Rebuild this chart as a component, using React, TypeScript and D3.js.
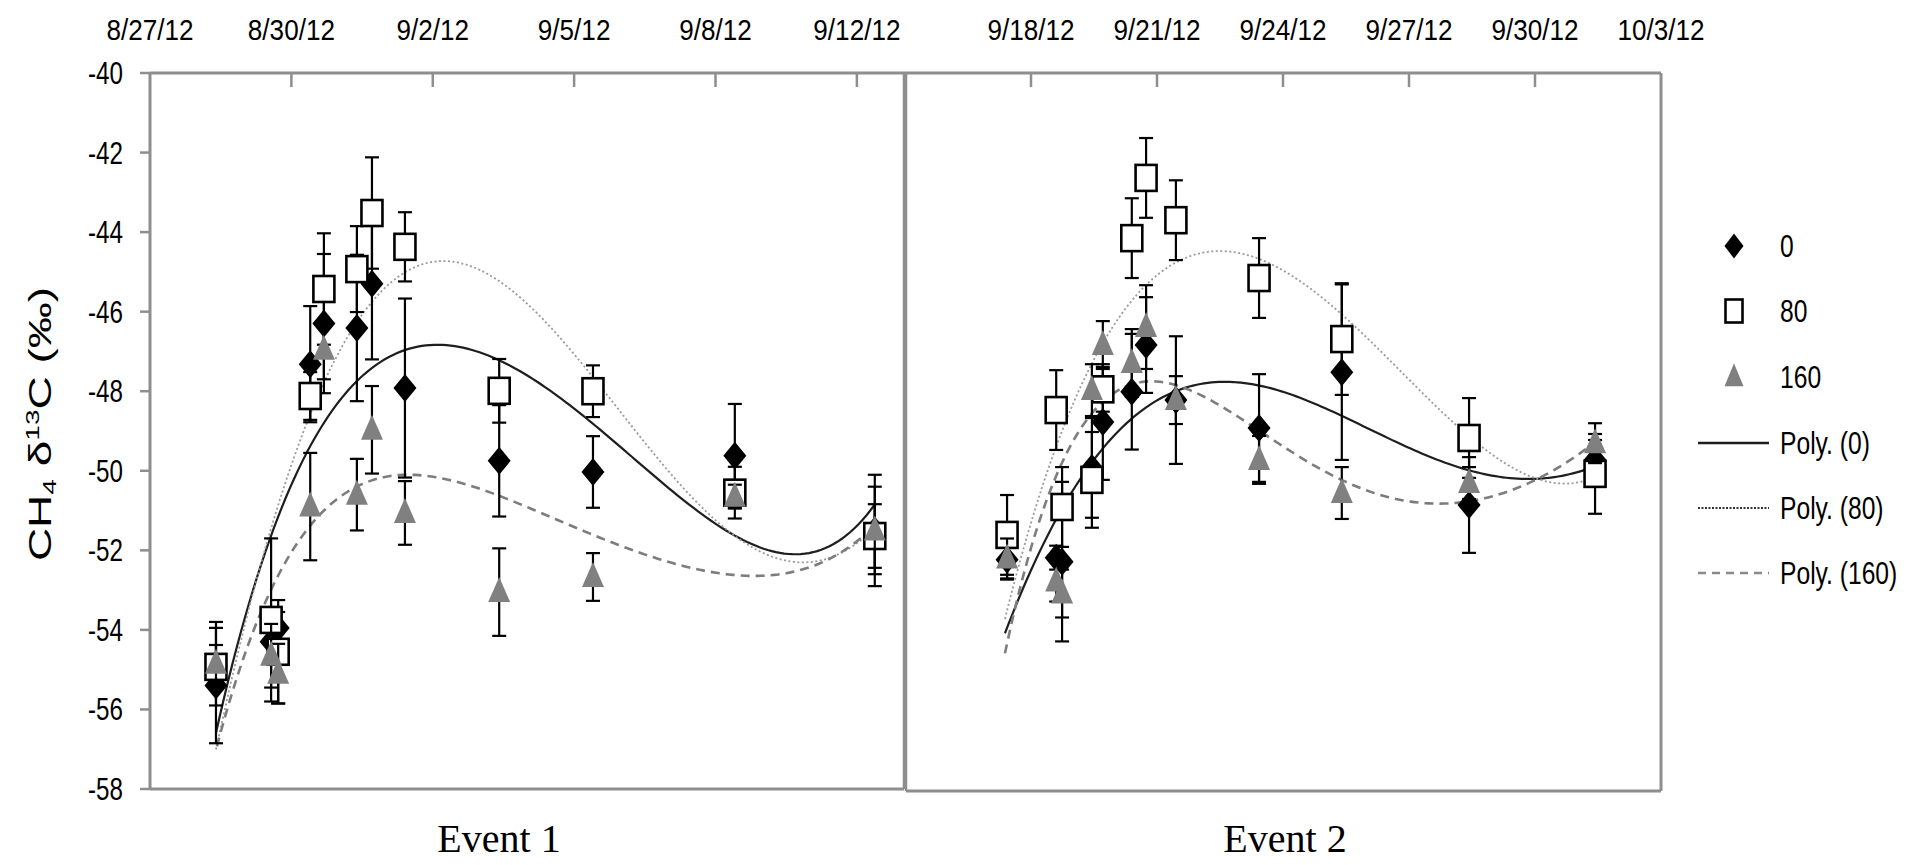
import React from "react";
import * as d3 from "d3";

// ---------- tick labels ----------
const LEFT_DATE_LABELS = ["8/27/12", "8/30/12", "9/2/12", "9/5/12", "9/8/12", "9/12/12"];
const LEFT_DATE_DAYS = [0, 3, 6, 9, 12, 15];
const RIGHT_DATE_LABELS = ["9/18/12", "9/21/12", "9/24/12", "9/27/12", "9/30/12", "10/3/12"];
const RIGHT_DATE_DAYS = [3, 6, 9, 12, 15, 18];
const Y_TICKS = [-40, -42, -44, -46, -48, -50, -52, -54, -56, -58];
const SERIES_NAMES = ["0", "80", "160"];
const FIT_NAMES = ["Poly. (0)", "Poly. (80)", "Poly. (160)"];

// ---------- Event 1 (days since 8/27/12) ----------
const E1_DAYS = [1.4, 2.57, 2.72, 3.4, 3.69, 4.39, 4.71, 5.41, 7.41, 9.4, 12.41, 15.38];
const E1_S0 = [-55.4, -54.3, -53.95, -47.32, -46.3, -46.41, -45.3, -47.92, -49.75, -50.03, -49.62, -51.5];
const E1_S0_ERR = [1.45, 0.5, 0.4, 1.46, 1.75, 1.84, 1.9, 2.25, 1.4, 0.9, 1.3, 1.4];
const E1_S80 = [-54.93, -53.75, -54.55, -48.12, -45.43, -44.93, -43.52, -44.37, -47.99, -48.0, -50.55, -51.64];
const E1_S80_ERR = [0.55, 2.05, 1.3, 0.6, 1.4, 1.08, 1.4, 0.87, 0.8, 0.65, 0.65, 0.8];
const E1_S160 = [-54.85, -54.65, -55.1, -50.9, -46.96, -50.6, -48.97, -51.06, -53.05, -52.67, -50.65, -51.5];
const E1_S160_ERR = [1.05, 0.8, 0.75, 1.35, 0.74, 0.9, 1.1, 0.8, 1.1, 0.6, 0.3, 1.1];

// trend curves: [day, value]
const E1_FIT0: [number, number][] = [
  [1.4, -56.9], [1.76, -54.4], [2.55, -51.6], [2.97, -50.4], [3.46, -49.4], [3.82, -48.75],
  [4.39, -47.85], [4.82, -47.3], [5.58, -46.8], [6.0, -46.69], [7.0, -46.96], [8.06, -47.72],
  [9.4, -48.97], [10.4, -49.73], [10.97, -50.4], [12.37, -51.56], [13.2, -52.05], [13.8, -52.14],
  [14.49, -51.8], [15.38, -50.86],
];
const E1_FIT80: [number, number][] = [
  [1.4, -57.0], [2.06, -53.57], [2.76, -50.9], [3.33, -48.8], [3.88, -47.2], [4.6, -45.9],
  [5.3, -45.03], [6.22, -44.75], [7.0, -45.03], [7.7, -45.53], [8.76, -46.63], [9.66, -48.05],
  [10.25, -49.0], [11.18, -50.23], [12.37, -51.49], [13.22, -52.2], [13.79, -52.37],
  [14.49, -52.17], [15.21, -51.57], [15.43, -51.4],
];
const E1_FIT160: [number, number][] = [
  [1.42, -57.0], [2.06, -54.42], [2.76, -52.4], [3.46, -51.24], [4.39, -50.56], [5.45, -50.23],
  [6.3, -50.2], [7.36, -50.48], [8.42, -51.06], [9.55, -51.66], [10.97, -52.35], [12.37, -52.7],
  [13.22, -52.67], [14.15, -52.2], [15.07, -51.66], [15.43, -51.4],
];

// ---------- Event 2 (days since 9/15/12) ----------
const E2_DAYS = [2.43, 3.6, 3.74, 4.45, 4.71, 5.4, 5.74, 6.45, 8.43, 10.4, 13.43, 16.43];
const E2_S0 = [-52.2, -52.15, -52.25, -49.9, -48.75, -47.99, -46.82, -48.2, -48.9, -47.5, -50.83, -49.7];
const E2_S0_ERR = [0.5, 0.3, 2.0, 1.25, 1.45, 1.45, 1.2, 1.6, 1.35, 2.2, 1.2, 0.5];
const E2_S80 = [-51.58, -48.45, -50.88, -50.2, -47.93, -44.14, -42.63, -43.69, -45.14, -46.67, -49.15, -50.05];
const E2_S80_ERR = [1.0, 1.0, 1.0, 1.2, 0.56, 1.0, 1.0, 1.0, 1.0, 1.4, 1.0, 1.0];
const E2_S160 = [-52.17, -52.75, -53.05, -47.95, -46.82, -47.27, -46.37, -48.2, -49.7, -50.53, -50.28, -49.28];
const E2_S160_ERR = [0.5, 0.5, 0.6, 0.65, 0.6, 0.85, 1.05, 0.6, 0.6, 0.65, 0.4, 0.5];

const E2_FIT0: [number, number][] = [
  [2.38, -54.0], [3.45, -51.6], [4.48, -49.7], [5.43, -48.53], [6.62, -47.92],
  [7.67, -47.77], [8.62, -47.9], [10.19, -48.53], [11.86, -49.28], [13.48, -49.95],
  [14.83, -50.2], [15.67, -50.13], [16.43, -49.83],
];
const E2_FIT80: [number, number][] = [
  [2.38, -53.7], [3.38, -49.95], [4.33, -47.62], [5.43, -45.69], [6.48, -44.69],
  [7.43, -44.39], [8.62, -44.76], [10.19, -46.02], [11.86, -47.37], [13.48, -49.2],
  [14.83, -50.13], [15.5, -50.25], [16.43, -50.13],
];
const E2_FIT160: [number, number][] = [
  [2.38, -54.5], [3.52, -50.5], [4.24, -48.7], [5.05, -47.87], [5.83, -47.77], [6.79, -47.95],
  [8.21, -48.87], [9.4, -49.7], [10.6, -50.2], [11.86, -50.63], [13.38, -50.85], [14.4, -50.53],
  [15.4, -49.88], [16.43, -49.28],
];

// ---------- layout ----------
const W = 1907;
const H = 865;
const BORDER = "#8e8e8e";
const SANS = "'Liberation Sans', Arial, sans-serif";
const SERIF = "'Liberation Serif', 'Times New Roman', serif";

const xL = d3.scaleLinear().domain([0, 16]).range([150, 904]);
const yL = d3.scaleLinear().domain([-58, -40]).range([789, 73]);
const xR = d3.scaleLinear().domain([0, 18]).range([905, 1661]);
const yR = d3.scaleLinear().domain([-58, -40]).range([791, 73]);

// least-squares polynomial through the read trend points (smooths reading noise)
function polySmooth(pts: [number, number][], deg: number, n = 160): [number, number][] {
  const x0 = pts[0][0];
  const x1 = pts[pts.length - 1][0];
  const mid = (x0 + x1) / 2;
  const half = (x1 - x0) / 2;
  const m = deg + 1;
  const A = Array.from({ length: m }, () => new Array(m).fill(0));
  const b = new Array(m).fill(0);
  pts.forEach(([x, y]) => {
    const t = (x - mid) / half;
    const p = Array.from({ length: m }, (_, k) => Math.pow(t, k));
    for (let i = 0; i < m; i++) {
      b[i] += p[i] * y;
      for (let j = 0; j < m; j++) A[i][j] += p[i] * p[j];
    }
  });
  for (let c = 0; c < m; c++) {
    let piv = c;
    for (let r = c + 1; r < m; r++) if (Math.abs(A[r][c]) > Math.abs(A[piv][c])) piv = r;
    [A[c], A[piv]] = [A[piv], A[c]];
    [b[c], b[piv]] = [b[piv], b[c]];
    for (let r = 0; r < m; r++) {
      if (r === c) continue;
      const f = A[r][c] / A[c][c];
      for (let k = c; k < m; k++) A[r][k] -= f * A[c][k];
      b[r] -= f * b[c];
    }
  }
  const coef = b.map((v, i) => v / A[i][i]);
  return d3.range(n + 1).map((i) => {
    const x = x0 + ((x1 - x0) * i) / n;
    const t = (x - mid) / half;
    const y = coef.reduce((s, c, k) => s + c * Math.pow(t, k), 0);
    return [x, y] as [number, number];
  });
}

function Diamond({ cx, cy, w = 23, h = 28 }: any) {
  return (
    <path
      d={`M${cx},${cy - h / 2}L${cx + w / 2},${cy}L${cx},${cy + h / 2}L${cx - w / 2},${cy}Z`}
      fill="#000"
    />
  );
}
function Square({ cx, cy, w = 21, h = 26 }: any) {
  return <rect x={cx - w / 2} y={cy - h / 2} width={w} height={h} fill="#fff" stroke="#000" strokeWidth={2.6} />;
}
function Triangle({ cx, cy, w = 22, h = 25 }: any) {
  return (
    <path
      d={`M${cx},${cy - h * 0.6}L${cx + w / 2},${cy + h * 0.4}L${cx - w / 2},${cy + h * 0.4}Z`}
      fill="#808080"
    />
  );
}

function STxt({ x, y, sx = 1, size, family = SANS, anchor = "start", children }: any) {
  return (
    <text
      transform={`translate(${x},${y}) scale(${sx},1)`}
      fontSize={size}
      fontFamily={family}
      textAnchor={anchor}
      fill="#000"
    >
      {children}
    </text>
  );
}

function Panel({ x, y, days, series, errs, fits }: any) {
  const line = (pts: [number, number][]) =>
    d3
      .line<[number, number]>()
      .x((d) => x(d[0]))
      .y((d) => y(d[1]))(polySmooth(pts, 5)) || "";
  const fitStyles = [
    { stroke: "#1e1e1e", width: 2.2, dash: "none" },
    { stroke: "#9a9a9a", width: 1.8, dash: "2 2.5" },
    { stroke: "#7d7d7d", width: 2.6, dash: "9 6" },
  ];
  return (
    <g>
      {fits.map((f: [number, number][], i: number) => (
        <path
          key={"f" + i}
          d={line(f)}
          fill="none"
          stroke={fitStyles[i].stroke}
          strokeWidth={fitStyles[i].width}
          strokeDasharray={fitStyles[i].dash}
        />
      ))}
      {series.map((vals: number[], si: number) => (
        <g key={"s" + si}>
          {vals.map((v: number, i: number) => {
            const cx = x(days[i]);
            const e = errs[si][i];
            const yt = y(v + e);
            const yb = y(v - e);
            return (
              <g key={i} stroke="#000" strokeWidth={2.2}>
                <line x1={cx} x2={cx} y1={yt} y2={yb} />
                <line x1={cx - 7} x2={cx + 7} y1={yt} y2={yt} />
                <line x1={cx - 7} x2={cx + 7} y1={yb} y2={yb} />
              </g>
            );
          })}
          {vals.map((v: number, i: number) => {
            const cx = x(days[i]);
            const cy = y(v);
            if (si === 0) return <Diamond key={"m" + i} cx={cx} cy={cy} />;
            if (si === 1) return <Square key={"m" + i} cx={cx} cy={cy} />;
            return <Triangle key={"m" + i} cx={cx} cy={cy} />;
          })}
        </g>
      ))}
    </g>
  );
}

export default function App() {
  const legendY = [246, 311, 377, 443, 508, 573];
  const legendMarkX = 1734;
  const legendTextX = 1780;
  return (
    <svg
      width={W}
      height={H}
      viewBox={`0 0 ${W} ${H}`}
      style={{ position: "absolute", left: 0, top: 0, background: "#fff" }}
    >
      <rect x={0} y={0} width={W} height={H} fill="#fff" />

      {/* top date labels */}
      {LEFT_DATE_LABELS.map((t, i) => (
        <STxt key={"lt" + i} x={xL(LEFT_DATE_DAYS[i])} y={40} sx={0.9} size={29} anchor="middle">
          {t}
        </STxt>
      ))}
      {RIGHT_DATE_LABELS.map((t, i) => (
        <STxt key={"rt" + i} x={xR(RIGHT_DATE_DAYS[i])} y={40} sx={0.9} size={29} anchor="middle">
          {t}
        </STxt>
      ))}

      {/* y axis */}
      {Y_TICKS.map((v) => (
        <g key={"y" + v}>
          <line x1={140} x2={150} y1={yL(v)} y2={yL(v)} stroke={BORDER} strokeWidth={2.5} />
          <STxt x={123} y={yL(v) + 11} sx={0.78} size={31} anchor="end">
            {v}
          </STxt>
        </g>
      ))}

      {/* y title */}
      <text
        transform={`translate(51,424) scale(0.68,1) rotate(-90)`}
        fontSize={46}
        fontFamily={SANS}
        textAnchor="middle"
        fill="#000"
      >
        CH<tspan fontSize={28} dy={8}>4</tspan>
        <tspan dy={-8}>{"  δ"}</tspan>
        <tspan fontSize={28} dy={-18}>13</tspan>
        <tspan dy={18}>C (‰)</tspan>
      </text>

      {/* panel frames */}
      <line x1={150} x2={1661} y1={73} y2={73} stroke={BORDER} strokeWidth={3} />
      <line x1={150} x2={150} y1={73} y2={789} stroke={BORDER} strokeWidth={3} />
      <line x1={150} x2={904} y1={789} y2={789} stroke={BORDER} strokeWidth={3} />
      <line x1={904} x2={904} y1={73} y2={789} stroke={BORDER} strokeWidth={2.5} />
      <line x1={906} x2={906} y1={73} y2={791} stroke={BORDER} strokeWidth={2.5} />
      <line x1={906} x2={1661} y1={791} y2={791} stroke={BORDER} strokeWidth={3} />
      <line x1={1661} x2={1661} y1={73} y2={791} stroke={BORDER} strokeWidth={3} />
      {LEFT_DATE_DAYS.slice(1).map((d) => (
        <line key={"ltk" + d} x1={xL(d)} x2={xL(d)} y1={73} y2={87} stroke={BORDER} strokeWidth={2.5} />
      ))}
      {RIGHT_DATE_DAYS.slice(0, 5).map((d) => (
        <line key={"rtk" + d} x1={xR(d)} x2={xR(d)} y1={73} y2={87} stroke={BORDER} strokeWidth={2.5} />
      ))}

      <Panel
        x={xL}
        y={yL}
        days={E1_DAYS}
        series={[E1_S0, E1_S80, E1_S160]}
        errs={[E1_S0_ERR, E1_S80_ERR, E1_S160_ERR]}
        fits={[E1_FIT0, E1_FIT80, E1_FIT160]}
      />
      <Panel
        x={xR}
        y={yR}
        days={E2_DAYS}
        series={[E2_S0, E2_S80, E2_S160]}
        errs={[E2_S0_ERR, E2_S80_ERR, E2_S160_ERR]}
        fits={[E2_FIT0, E2_FIT80, E2_FIT160]}
      />

      {/* legend */}
      <Diamond cx={legendMarkX} cy={legendY[0]} w={19} h={25} />
      <Square cx={legendMarkX} cy={legendY[1]} w={17} h={23} />
      <Triangle cx={legendMarkX} cy={legendY[2]} w={19} h={23} />
      <line x1={1698} x2={1769} y1={legendY[3]} y2={legendY[3]} stroke="#1e1e1e" strokeWidth={2.5} />
      <line x1={1698} x2={1769} y1={legendY[4]} y2={legendY[4]} stroke="#333" strokeWidth={2.2} strokeDasharray="2 1.5" />
      <line x1={1698} x2={1769} y1={legendY[5]} y2={legendY[5]} stroke="#8a8a8a" strokeWidth={2.5} strokeDasharray="8 6" />
      {[...SERIES_NAMES, ...FIT_NAMES].map((t, i) => (
        <STxt key={"lg" + i} x={legendTextX} y={legendY[i] + 11} sx={0.77} size={32}>
          {t}
        </STxt>
      ))}

      {/* event labels */}
      <text x={499} y={852} fontSize={40} fontFamily={SERIF} textAnchor="middle" fill="#000">
        Event 1
      </text>
      <text x={1285} y={852} fontSize={40} fontFamily={SERIF} textAnchor="middle" fill="#000">
        Event 2
      </text>
    </svg>
  );
}
